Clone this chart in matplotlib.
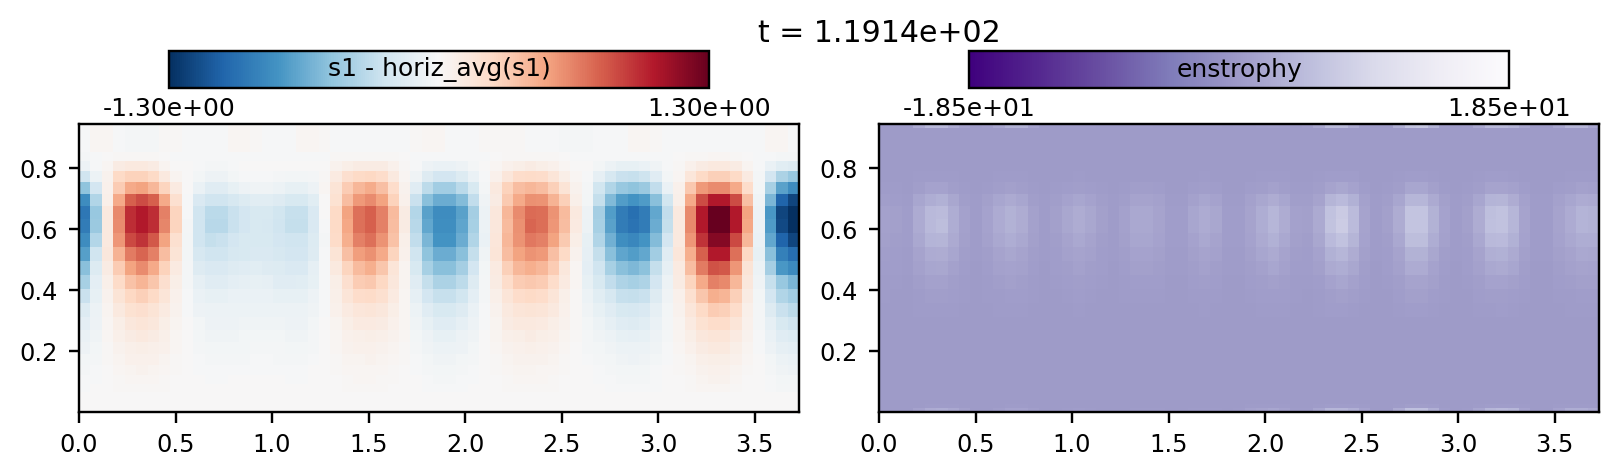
#!/usr/bin/env python3
"""Snapshot of s1 anomaly and enstrophy at t = 1.1914e+02, colourbars on top."""
import numpy as np
import matplotlib

matplotlib.use("Agg")
import matplotlib.pyplot as plt

WIDTH, HEIGHT, DPI = 1619, 475, 216

S1_LIMIT = 1.30
ENS_LIMIT = 18.5
TITLE = "t = 1.1914e+02"

X_MAX = 3.73
N_COLS = 63
# grid rows are not uniform, they bunch up at top and bottom
Z_EDGES = [
    0.0006, 0.0051, 0.0141, 0.0276, 0.0454, 0.0672, 0.0930, 0.1224, 0.1552, 0.1910, 0.2296,
    0.2705, 0.3133, 0.3577, 0.4030, 0.4493, 0.4957, 0.5420, 0.5873, 0.6317, 0.6745, 0.7154,
    0.7540, 0.7898, 0.8226, 0.8520, 0.8778, 0.8996, 0.9174, 0.9309, 0.9399, 0.9444,
]

# percent of S1_LIMIT, top row first
S1_FAINT = [-1, 2, 2, -1, -2, -2, -2, 1, 1, -1, -1, -1, -1, 2, 2, 1, -1, -1, -1, 2, 2, 1, -1, -1, -1, -1, -1, -1, -1, 1, 2, 2, -1, -1, -1, 1, 1, 1, 1, -1, -1, -1, -2, -2, -2, -1, -1, -1, 2, 2, 1, -1, -1, -1, -1, -1, -1, -1, -1, -1, 2, 2, -1]
S1_PCT = [
    S1_FAINT,
    S1_FAINT,
    S1_FAINT,
    S1_FAINT,
    S1_FAINT,
    S1_FAINT,
    [-2, -1, 0, 1, 1, 1, 1, 0, -1, -1, -1, -1, -1, -1, -1, -1, -1, -1, -1, -1, -1, -1, 1, 1, 1, 1, 1, 1, 0, -1, -1, -1, -1, -1, -1, -1, 0, 1, 1, 1, 1, 1, 0, -1, -1, -1, -1, -1, -1, -1, -1, -1, 0, 1, 1, 2, 2, 1, 0, -1, -1, -2, -2],
    [-5, -1, 2, 8, 10, 10, 8, 3, 0, 0, -1, -2, -2, -1, 0, 0, 0, 0, 0, 0, 0, 0, 4, 7, 8, 8, 8, 5, 1, -1, -5, -7, -7, -5, -2, 0, 2, 5, 7, 8, 7, 5, 2, 0, 0, -3, -6, -8, -8, -7, -4, -1, 1, 5, 8, 10, 10, 8, 3, -1, -7, -11, -13],
    [-20, -6, 4, 20, 23, 23, 20, 10, 3, 0, -3, -5, -5, -3, -1, -1, -1, -2, -3, -3, -2, 1, 9, 17, 20, 21, 18, 10, 2, -4, -13, -18, -18, -14, -7, -1, 5, 12, 18, 19, 18, 13, 7, 2, -1, -9, -17, -22, -23, -21, -12, -3, 2, 12, 20, 24, 24, 20, 9, -2, -18, -32, -38],
    [-40, -18, 5, 25, 38, 40, 33, 22, 9, 0, -7, -12, -12, -8, -5, -4, -4, -6, -8, -8, -5, 2, 14, 25, 33, 37, 30, 18, 4, -12, -26, -35, -35, -27, -16, -2, 10, 23, 31, 33, 31, 24, 14, 4, -2, -19, -30, -38, -40, -37, -25, -7, 5, 27, 43, 47, 47, 38, 18, -3, -33, -54, -63],
    [-63, -30, 6, 38, 60, 65, 60, 38, 16, -1, -15, -20, -20, -17, -14, -11, -11, -13, -16, -16, -11, 0, 15, 31, 43, 47, 40, 23, 5, -22, -42, -50, -50, -43, -25, -4, 8, 26, 38, 46, 45, 35, 24, 6, -3, -24, -44, -56, -60, -57, -42, -19, 6, 38, 65, 80, 80, 65, 30, -4, -46, -80, -92],
    [-72, -38, 10, 48, 74, 80, 74, 50, 22, -1, -20, -27, -27, -22, -18, -16, -16, -19, -23, -23, -15, 0, 20, 40, 55, 60, 50, 32, 8, -29, -54, -63, -63, -54, -34, -6, 11, 33, 47, 57, 56, 45, 32, 10, -5, -34, -56, -70, -75, -70, -52, -25, 10, 48, 80, 100, 100, 80, 40, -5, -58, -92, -100],
    [-70, -37, 10, 47, 74, 80, 74, 49, 22, -2, -20, -28, -28, -22, -18, -16, -17, -20, -24, -24, -15, -1, 20, 39, 55, 60, 50, 31, 8, -28, -52, -62, -62, -53, -33, -6, 11, 32, 46, 58, 56, 44, 31, 9, -6, -33, -54, -70, -74, -70, -50, -24, 10, 48, 80, 100, 100, 80, 39, -6, -57, -90, -100],
    [-63, -29, 10, 44, 66, 72, 62, 40, 16, -3, -20, -24, -22, -18, -16, -16, -16, -18, -20, -20, -14, -2, 19, 36, 50, 55, 45, 29, 6, -25, -46, -60, -60, -50, -30, -7, 12, 33, 45, 53, 50, 40, 26, 7, -8, -30, -48, -62, -65, -60, -43, -18, 10, 44, 72, 92, 92, 66, 33, -7, -52, -80, -92],
    [-55, -20, 11, 35, 52, 58, 50, 31, 14, -3, -17, -20, -20, -17, -16, -15, -15, -17, -18, -18, -13, -1, 14, 30, 42, 46, 38, 22, 5, -20, -40, -50, -50, -42, -24, -4, 13, 31, 40, 45, 43, 30, 20, 4, -9, -24, -42, -53, -56, -52, -35, -12, 12, 36, 60, 80, 80, 55, 21, -8, -42, -68, -76],
    [-42, -14, 8, 25, 40, 47, 38, 23, 9, -2, -13, -15, -15, -13, -12, -11, -13, -14, -15, -15, -9, -1, 10, 22, 32, 36, 28, 13, 3, -16, -33, -42, -42, -34, -18, -3, 9, 24, 33, 36, 33, 25, 11, 2, -10, -20, -33, -42, -45, -41, -24, -9, 9, 31, 52, 64, 62, 44, 14, -6, -34, -58, -64],
    [-33, -10, 6, 19, 29, 34, 28, 17, 7, -2, -9, -12, -12, -10, -9, -8, -9, -12, -12, -11, -8, -1, 7, 17, 25, 27, 21, 11, 3, -12, -24, -32, -32, -26, -13, -2, 8, 18, 25, 27, 25, 18, 9, 2, -8, -16, -25, -31, -33, -31, -18, -6, 8, 22, 38, 50, 48, 33, 11, -4, -23, -38, -46],
    [-22, -8, 4, 14, 21, 24, 20, 13, 5, -1, -7, -8, -8, -7, -7, -7, -7, -8, -8, -8, -5, -1, 6, 13, 18, 19, 16, 9, 2, -9, -18, -23, -23, -19, -10, -2, 6, 13, 18, 20, 18, 13, 6, 1, -6, -11, -17, -23, -24, -22, -13, -4, 5, 16, 28, 36, 34, 24, 8, -3, -18, -30, -35],
    [-14, -6, 3, 10, 15, 17, 14, 9, 4, -1, -5, -6, -6, -6, -6, -6, -6, -6, -6, -6, -4, -1, 5, 9, 12, 13, 11, 7, 2, -6, -12, -16, -16, -13, -7, -1, 4, 10, 13, 14, 13, 10, 5, 1, -4, -8, -12, -16, -17, -15, -9, -3, 4, 12, 20, 25, 24, 18, 6, -2, -13, -22, -26],
    [-10, -5, 2, 7, 11, 13, 11, 7, 3, 0, -3, -5, -5, -5, -4, -4, -4, -4, -5, -5, -3, 0, 3, 7, 9, 9, 8, 5, 2, -4, -8, -12, -12, -9, -5, -1, 3, 8, 10, 10, 9, 7, 4, 1, -3, -6, -9, -12, -13, -11, -7, -2, 3, 9, 15, 18, 18, 13, 5, -2, -9, -16, -20],
    [-7, -4, 2, 6, 8, 10, 8, 6, 2, 0, -3, -4, -4, -4, -3, -3, -3, -3, -4, -4, -2, 0, 2, 5, 6, 7, 6, 4, 2, -3, -5, -8, -8, -6, -4, 0, 3, 6, 7, 8, 7, 6, 3, 1, -2, -4, -6, -8, -9, -8, -5, -2, 3, 7, 11, 13, 13, 9, 4, -1, -7, -12, -14],
    [-5, -3, 1, 4, 6, 7, 6, 5, 2, 0, -2, -3, -3, -3, -3, -2, -2, -2, -3, -3, -2, 0, 2, 4, 5, 5, 4, 3, 1, -2, -4, -6, -6, -5, -3, 0, 2, 4, 5, 6, 5, 4, 2, 0, -2, -3, -4, -6, -6, -6, -4, -1, 2, 5, 8, 10, 10, 7, 3, -1, -5, -9, -10],
    [-3, -2, 1, 3, 5, 5, 5, 3, 1, 0, -1, -2, -2, -2, -2, -1, -1, -2, -2, -2, -1, 0, 1, 3, 3, 4, 3, 2, 1, -1, -3, -4, -4, -3, -2, 0, 1, 3, 4, 4, 4, 3, 1, 0, -1, -2, -3, -4, -5, -4, -3, -1, 1, 3, 6, 7, 7, 5, 2, 0, -3, -6, -7],
    [-2, -1, 0, 2, 3, 4, 3, 2, 1, 0, -1, -1, -1, -1, -1, -1, -1, -1, -1, -1, 0, 0, 1, 2, 2, 2, 2, 1, 0, -1, -2, -3, -3, -2, -1, 0, 1, 2, 3, 3, 2, 2, 1, 0, 0, -1, -2, -3, -3, -3, -1, 0, 1, 2, 4, 5, 5, 3, 1, 0, -2, -4, -5],
    [-1, -1, 0, 1, 2, 2, 2, 1, 0, 0, 0, -1, -1, 0, 0, 0, 0, 0, -1, -1, 0, 0, 0, 1, 2, 2, 1, 1, 0, 0, -1, -2, -2, -1, -1, 0, 0, 1, 2, 2, 2, 1, 0, 0, 0, -1, -1, -2, -2, -2, -1, 0, 0, 1, 3, 4, 4, 2, 0, 0, -1, -3, -3],
    [-1, 0, 0, 1, 1, 1, 1, 1, 0, 0, 0, 0, 0, 0, 0, 0, 0, 0, 0, 0, 0, 0, 0, 1, 1, 1, 1, 0, 0, 0, -1, -1, -1, -1, 0, 0, 0, 1, 1, 1, 1, 1, 0, 0, 0, 0, -1, -1, -1, -1, -1, 0, 0, 1, 2, 2, 2, 1, 0, 0, -1, -2, -2],
    [0] * N_COLS,
    [0] * N_COLS,
    [0] * N_COLS,
    [0] * N_COLS,
    [0] * N_COLS,
]

# percent of ENS_LIMIT, top row first
ENS_PCT = [
    [0, 0, 0, 12, 22, 22, 12, 5, 0, 2, 8, 17, 17, 6, 0, 0, 1, 1, 1, 0, 0, 0, 1, 1, 0, 0, 0, 0, 1, 1, 0, 1, 1, 2, 3, 2, 0, 2, 10, 24, 24, 12, 2, 0, 0, 15, 31, 33, 18, 2, 0, 1, 10, 22, 22, 18, 8, 0, 0, 8, 20, 20, 8],
    [0, 0, 0, 12, 22, 22, 12, 5, 0, 2, 8, 17, 17, 6, 0, 0, 1, 1, 1, 0, 0, 0, 1, 1, 0, 0, 0, 0, 1, 1, 0, 1, 1, 2, 3, 2, 0, 2, 10, 24, 24, 12, 2, 0, 0, 15, 31, 33, 18, 2, 0, 1, 10, 22, 22, 18, 8, 0, 0, 8, 20, 20, 8],
    [0] * N_COLS,
    [0] * N_COLS,
    [0] * N_COLS,
    [0] * N_COLS,
    [0] * N_COLS,
    [0] * N_COLS,
    [0, 0, 0, 1, 1, 1, 1, 0, 0, 0, 1, 1, 1, 0, 0, 0, 0, 1, 0, 0, 0, 0, 0, 0, 0, 0, 0, 0, 1, 0, 0, 0, 0, 1, 1, 1, 0, 0, 1, 2, 2, 2, 0, 0, 0, 1, 2, 2, 1, 0, 0, 0, 1, 2, 2, 1, 0, 0, 0, 0, 1, 1, 1],
    [1, 1, 0, 3, 6, 6, 3, 1, 0, 1, 3, 4, 3, 1, 0, 1, 2, 3, 2, 1, 0, 1, 3, 3, 2, 0, 0, 2, 3, 2, 0, 0, 2, 3, 5, 3, 1, 1, 3, 7, 9, 6, 2, 0, 1, 3, 8, 8, 4, 1, 0, 1, 3, 7, 7, 5, 2, 0, 0, 2, 3, 5, 4],
    [3, 2, 1, 8, 14, 16, 9, 3, 1, 4, 8, 11, 8, 3, 1, 3, 6, 8, 6, 3, 1, 3, 7, 7, 5, 1, 1, 5, 8, 6, 1, 1, 5, 9, 13, 8, 3, 3, 7, 19, 23, 16, 5, 1, 3, 8, 20, 20, 11, 4, 1, 3, 8, 18, 19, 13, 5, 1, 1, 5, 8, 12, 11],
    [5, 4, 2, 12, 22, 24, 14, 5, 1, 6, 12, 17, 13, 5, 1, 4, 9, 13, 9, 4, 1, 5, 10, 10, 7, 2, 2, 8, 12, 9, 2, 2, 7, 14, 20, 13, 5, 4, 11, 29, 36, 24, 7, 1, 4, 13, 31, 31, 17, 6, 1, 4, 13, 27, 29, 20, 7, 1, 1, 7, 12, 18, 17],
    [5, 4, 2, 12, 22, 25, 14, 5, 1, 6, 12, 17, 13, 5, 1, 4, 9, 13, 9, 4, 1, 5, 10, 10, 7, 2, 2, 8, 12, 9, 2, 2, 7, 14, 20, 13, 5, 4, 11, 30, 38, 24, 7, 1, 4, 13, 31, 31, 17, 6, 1, 4, 13, 28, 29, 20, 7, 1, 1, 7, 12, 18, 17],
    [4, 3, 2, 10, 18, 19, 11, 4, 1, 5, 10, 14, 10, 4, 1, 3, 7, 10, 7, 3, 1, 4, 8, 8, 6, 2, 2, 6, 10, 7, 2, 2, 6, 11, 16, 10, 4, 3, 9, 23, 29, 19, 6, 1, 3, 10, 25, 25, 14, 5, 1, 3, 10, 22, 23, 16, 6, 1, 1, 6, 10, 14, 14],
    [3, 2, 1, 7, 12, 13, 8, 3, 1, 3, 7, 9, 7, 3, 1, 2, 5, 7, 5, 2, 1, 3, 6, 6, 4, 1, 1, 4, 7, 5, 1, 1, 4, 8, 11, 7, 3, 2, 6, 16, 20, 13, 4, 1, 2, 7, 17, 17, 9, 3, 1, 2, 7, 15, 16, 11, 4, 1, 1, 4, 7, 10, 9],
    [2, 2, 1, 5, 8, 9, 5, 2, 0, 2, 5, 6, 5, 2, 0, 2, 3, 5, 3, 2, 0, 2, 4, 4, 3, 1, 1, 3, 5, 3, 1, 1, 3, 5, 8, 5, 2, 2, 4, 11, 14, 9, 3, 0, 2, 5, 12, 12, 6, 2, 0, 2, 5, 10, 11, 8, 3, 0, 0, 3, 5, 7, 6],
    [1, 1, 0, 3, 5, 5, 3, 1, 0, 1, 3, 4, 3, 1, 0, 1, 2, 3, 2, 1, 0, 1, 2, 2, 2, 0, 0, 2, 3, 2, 0, 0, 2, 3, 4, 3, 1, 1, 2, 6, 8, 5, 2, 0, 1, 3, 7, 7, 4, 1, 0, 1, 3, 6, 6, 4, 2, 0, 0, 2, 3, 4, 4],
    [1, 0, 0, 1, 3, 3, 2, 1, 0, 1, 1, 2, 2, 1, 0, 0, 1, 2, 1, 0, 0, 1, 1, 1, 1, 0, 0, 1, 1, 1, 0, 0, 1, 2, 2, 2, 1, 0, 1, 3, 4, 3, 1, 0, 0, 2, 4, 4, 2, 1, 0, 0, 2, 3, 3, 2, 1, 0, 0, 1, 1, 2, 2],
    [0, 0, 0, 1, 1, 1, 1, 0, 0, 0, 1, 1, 1, 0, 0, 0, 0, 1, 0, 0, 0, 0, 0, 0, 0, 0, 0, 0, 1, 0, 0, 0, 0, 1, 1, 1, 0, 0, 1, 2, 2, 1, 0, 0, 0, 1, 2, 2, 1, 0, 0, 0, 1, 1, 2, 1, 0, 0, 0, 0, 1, 1, 1],
    [0] * N_COLS,
    [0] * N_COLS,
    [0] * N_COLS,
    [0] * N_COLS,
    [0] * N_COLS,
    [0] * N_COLS,
    [0] * N_COLS,
    [0] * N_COLS,
    [0] * N_COLS,
    [0, 0, 0, 0, 1, 1, 1, 0, 0, 0, 0, 1, 1, 0, 0, 0, 0, 0, 0, 0, 0, 0, 0, 0, 0, 0, 0, 0, 0, 0, 0, 0, 1, 1, 1, 1, 0, 0, 1, 2, 2, 2, 1, 0, 0, 1, 3, 3, 2, 0, 0, 0, 1, 2, 2, 2, 1, 0, 0, 1, 1, 1, 1],
    [0, 0, 0, 6, 12, 14, 10, 4, 0, 0, 3, 6, 6, 3, 0, 0, 1, 2, 1, 0, 0, 0, 1, 1, 1, 0, 0, 1, 1, 1, 0, 1, 5, 7, 8, 5, 1, 1, 8, 20, 20, 15, 6, 0, 0, 12, 28, 28, 15, 2, 0, 1, 8, 20, 22, 20, 6, 0, 0, 6, 14, 14, 10],
    [0, 0, 0, 6, 12, 14, 10, 4, 0, 0, 3, 6, 6, 3, 0, 0, 1, 2, 1, 0, 0, 0, 1, 1, 1, 0, 0, 1, 1, 1, 0, 1, 5, 7, 8, 5, 1, 1, 8, 20, 20, 15, 6, 0, 0, 12, 28, 28, 15, 2, 0, 1, 8, 20, 22, 20, 6, 0, 0, 6, 14, 14, 10],
]


def px_axes(fig, left, top, right, bottom):
    # pixel box -> figure axes
    return fig.add_axes([left / WIDTH, 1 - bottom / HEIGHT, (right - left) / WIDTH, (bottom - top) / HEIGHT])


def panel(fig, left, cbar_left, values, limit, cmap, label):
    ax = px_axes(fig, left, 124, left + 720, 412)
    x_edges = np.linspace(0, X_MAX, N_COLS + 1)
    # rows were listed from the top down
    mesh = ax.pcolormesh(x_edges, Z_EDGES, values[::-1], cmap=cmap, vmin=-limit, vmax=limit)
    ax.set_xlim(0, X_MAX)
    ax.set_ylim(Z_EDGES[0], Z_EDGES[-1])
    ax.set_yticks([0.2, 0.4, 0.6, 0.8])
    ax.tick_params(labelsize=8)

    cax = px_axes(fig, cbar_left, 51, cbar_left + 540, 88)
    cbar = fig.colorbar(mesh, cax=cax, orientation="horizontal")
    cbar.set_ticks([-limit, limit], labels=[f"{-limit:.2e}", f"{limit:.2e}"])
    cax.tick_params(length=0, labelsize=8.33, pad=3)
    cax.text(0.5, 0.5, label, transform=cax.transAxes, ha="center", va="center", fontsize=8.33)


def main():
    s1 = np.array(S1_PCT) / 100 * S1_LIMIT
    enstrophy = np.array(ENS_PCT) / 100 * ENS_LIMIT

    fig = plt.figure(figsize=(WIDTH / DPI, HEIGHT / DPI), dpi=DPI)
    panel(fig, 79, 169, s1, S1_LIMIT, "RdBu_r", "s1 - horiz_avg(s1)")
    panel(fig, 879, 969, enstrophy, ENS_LIMIT, "Purples_r", "enstrophy")
    fig.text(879 / WIDTH, 1 - 34 / HEIGHT, TITLE, ha="center", va="center", fontsize=10)

    fig.savefig("out.png", dpi=DPI)
    plt.close(fig)


if __name__ == "__main__":
    main()
